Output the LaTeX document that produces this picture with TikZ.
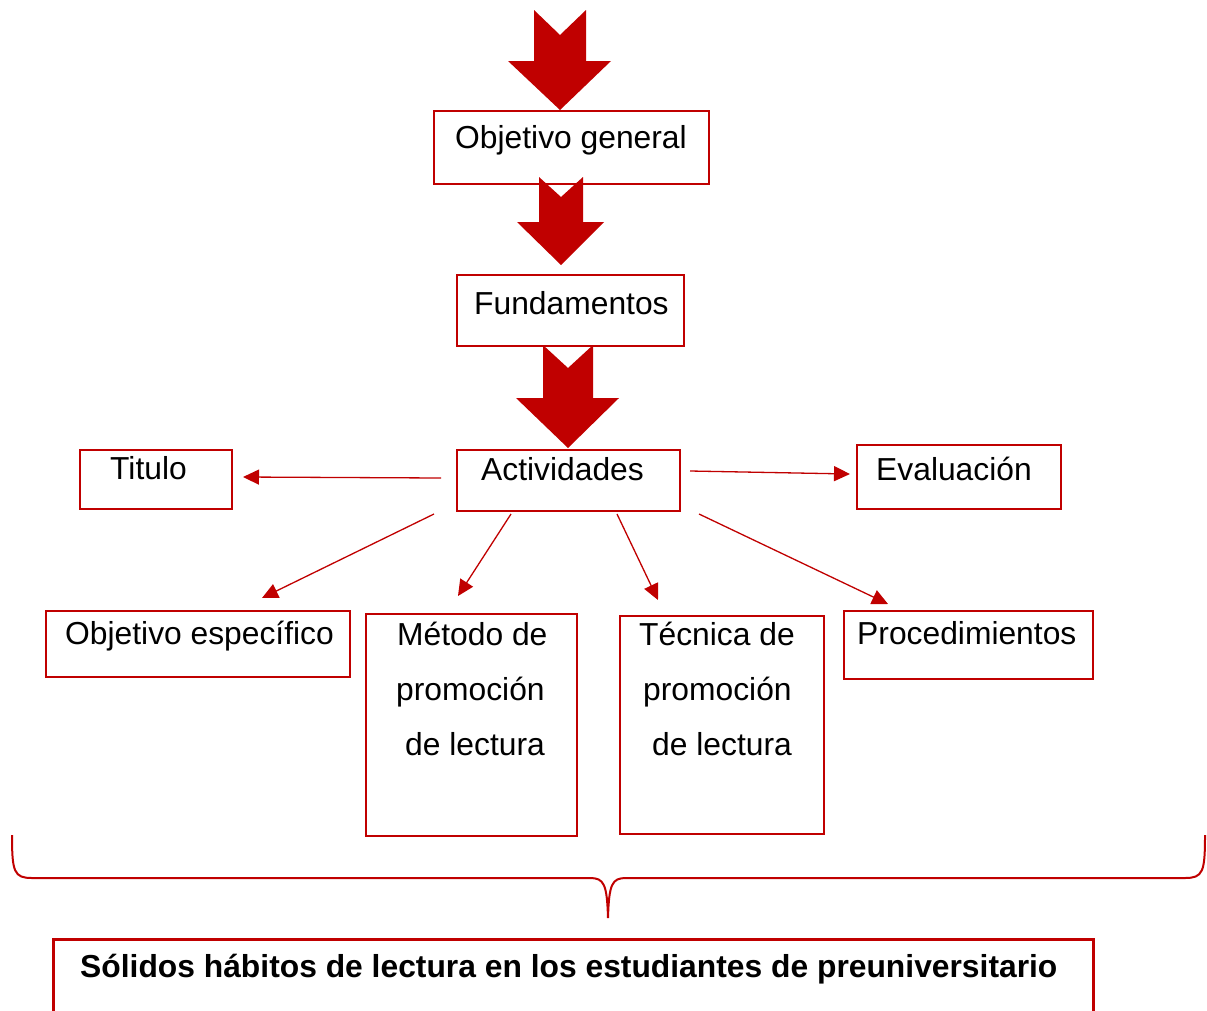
\documentclass[tikz,border=0pt]{standalone}
\usepackage{fontspec}
\setmainfont{Liberation Sans}
\usetikzlibrary{arrows.meta,calc}

\definecolor{rojo}{RGB}{192,0,0}

% block arrow: shaft left, shaft right, top, notch, shoulder, head left, head right, tip
\newcommand{\bloque}[8]{%
  \fill[rojo] (#1,#3) -- ({(#1+#2)/2},#4) -- (#2,#3) -- (#2,#5) -- (#7,#5)
    -- ({(#1+#2)/2},#8) -- (#6,#5) -- (#1,#5) -- cycle;}

\tikzset{
  caja/.style={draw=rojo,line width=2pt,inner sep=0pt,anchor=north west},
  txt/.style={anchor=base west,inner sep=0pt,font=\fontsize{31.8}{40}\selectfont},
  flecha/.style={draw=rojo,line width=1.3pt,-{Triangle[length=16pt,width=15pt]}},
}

\begin{document}
\begin{tikzpicture}[x=1pt,y=-1pt]
    \useasboundingbox (0,0) rectangle (1207,1010);

    % boxes
    \node[caja,minimum width=275,minimum height=73] (og) at (433,110) {};
    \node[caja,minimum width=227,minimum height=71] (fun) at (456,274) {};
    \node[caja,minimum width=223,minimum height=61] (act) at (456,449) {};
    \node[caja,minimum width=152,minimum height=59] (tit) at (79,449) {};
    \node[caja,minimum width=204,minimum height=64] (ev) at (856,444) {};
    \node[caja,minimum width=304,minimum height=66] (oe) at (45,610) {};
    \node[caja,minimum width=211,minimum height=222] (met) at (365,613) {};
    \node[caja,minimum width=204,minimum height=218] (tec) at (619,615) {};
    \node[caja,minimum width=249,minimum height=68] (proc) at (843,610) {};
    \node[caja,line width=3pt,minimum width=1040,minimum height=80] (sol) at (52,938) {};

    % texts
    \node[txt] (tog) at (455,148) {Objetivo general};
    \node[txt] (tfun) at (474,314) {Fundamentos};
    \node[txt] (tact) at (481,480) {Actividades};
    \node[txt] (ttit) at (110,479) {Titulo};
    \node[txt] (tev) at (876,480) {Evaluación};
    \node[txt] (toe) at (65,644) {Objetivo específico};
    \node[txt] (tproc) at (857,644) {Procedimientos};
    \node[txt] (tmet1) at (397,645) {Método de};
    \node[txt] (tmet2) at (396,700) {promoción};
    \node[txt] (tmet3) at (405,755) {de lectura};
    \node[txt] (ttec1) at (639,645) {Técnica de};
    \node[txt] (ttec2) at (643,700) {promoción};
    \node[txt] (ttec3) at (652,755) {de lectura};
    \node[txt,font=\fontsize{31.8}{40}\bfseries] (tsol) at (80,977)
        {Sólidos hábitos de lectura en los estudiantes de preuniversitario};

    % big arrows
    \bloque{534}{586}{10}{35}{61}{508}{611}{110}
    \bloque{539}{583}{177}{197}{222}{517}{604}{265}
    \bloque{543}{593}{345}{368}{398}{516}{619}{448}

    % thin arrows
    \draw[flecha] ($(act.west)+(-15,-2.5)$) -- ($(tit.east)+(10,-2.5)$);
    \draw[flecha] ($(act.east)+(9,-9.5)$) -- ($(ev.west)+(-6,-3)$);
    \draw[flecha] ($(act.south west)+(-22,2)$) -- ($(oe.north west)+(217,-12)$);
    \draw[flecha] ($(act.south west)+(55,2)$) -- ($(met.north west)+(93,-17)$);
    \draw[flecha] ($(act.south west)+(161,2)$) -- ($(tec.north west)+(39,-15)$);
    \draw[flecha] ($(act.south east)+(18,2)$) -- ($(proc.north west)+(45,-6)$);

    % brace
    \draw[rojo,line width=2pt] (12,835) .. controls (12,872) and (14,878) .. (32,878)
        -- (590,878) .. controls (604,878) and (607,884) .. (608,918)
        .. controls (609,884) and (612,878) .. (626,878)
        -- (1185,878) .. controls (1203,878) and (1205,872) .. (1205,835);
\end{tikzpicture}
\end{document}
